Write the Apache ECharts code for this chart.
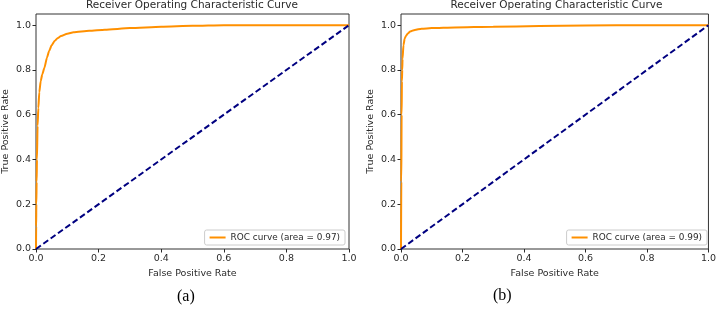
<!DOCTYPE html>
<html>
<head>
<meta charset="utf-8">
<script src="https://cdn.jsdelivr.net/npm/echarts@6/dist/echarts.min.js"></script>
<style>
  html, body { margin: 0; padding: 0; background: #fff; }
  #chart { width: 719px; height: 309px; }
</style>
</head>
<body>
<div id="chart"></div>
<script>
// ROC (a)
const fprA = [0, 0.0005, 0.001, 0.002, 0.003, 0.005, 0.0075, 0.0105, 0.015, 0.02, 0.027, 0.035, 0.042, 0.05, 0.06, 0.07, 0.08, 0.1, 0.12, 0.17, 0.22, 0.3, 0.4, 0.5, 0.6, 1.0];
const tprA = [0, 0.1, 0.2, 0.3, 0.4, 0.55, 0.63, 0.7, 0.75, 0.78, 0.81, 0.855, 0.885, 0.91, 0.93, 0.943, 0.952, 0.962, 0.968, 0.975, 0.98, 0.987, 0.993, 0.997, 1.0, 1.0];
// ROC (b)
const fprB = [0, 0.001, 0.002, 0.003, 0.004, 0.005, 0.008, 0.012, 0.016, 0.022, 0.03, 0.045, 0.067, 0.1, 0.175, 0.3, 0.45, 0.6, 0.8, 1.0];
const tprB = [0, 0.3, 0.6, 0.75, 0.8, 0.85, 0.91, 0.94, 0.952, 0.963, 0.972, 0.979, 0.984, 0.987, 0.99, 0.993, 0.996, 0.999, 1.0, 1.0];
const diagX = [0, 1];
const diagY = [0, 1];

const nameA = 'ROC curve (area = 0.97)';
const nameB = 'ROC curve (area = 0.99)';
const titleText = 'Receiver Operating Characteristic Curve';
const xTicks = [0, 0.2, 0.4, 0.6, 0.8, 1.0];
const yTicks = [0, 0.2, 0.4, 0.6, 0.8, 1.0];
const captions = ['(a)', '(b)'];

const font = 'DejaVu Sans';
const txt = '#2a2a2a';
const orange = '#ff9000';
const navy = '#000080';

const zip = (xs, ys) => xs.map((x, i) => [x, ys[i]]);

const grids = [
  { left: 35, top: 14, width: 314, height: 235 },
  { left: 401, top: 14, width: 311, height: 235 }
];

const makeX = (i) => ({
  type: 'value', gridIndex: i, min: 0, max: 1,
  name: 'False Positive Rate', nameLocation: 'middle', nameGap: 17,
  nameTextStyle: { fontFamily: font, fontSize: 9.5, color: txt },
  axisLine: { show: false },
  axisTick: { show: true, length: 3.5, lineStyle: { color: txt }, customValues: xTicks },
  axisLabel: { fontFamily: font, fontSize: 9.5, color: txt, margin: 5, customValues: xTicks, formatter: v => v.toFixed(1) },
  splitLine: { show: false }
});
const makeY = (i) => ({
  type: 'value', gridIndex: i, min: 0, max: 1.05,
  name: 'True Positive Rate', nameLocation: 'middle', nameGap: 25, nameRotate: 90,
  nameTextStyle: { fontFamily: font, fontSize: 9.5, color: txt },
  axisLine: { show: false },
  axisTick: { show: true, length: 3.5, lineStyle: { color: txt }, customValues: yTicks },
  axisLabel: { fontFamily: font, fontSize: 9.5, color: txt, margin: 5, customValues: yTicks, formatter: v => v.toFixed(1) },
  splitLine: { show: false }
});

const legendBase = {
  orient: 'vertical', icon: 'rect', itemWidth: 16, itemHeight: 2,
  padding: [3, 5, 3, 5], borderColor: '#ccc', borderWidth: 1, borderRadius: 2,
  backgroundColor: '#fff',
  textStyle: { fontFamily: font, fontSize: 8.9, color: txt }
};

const chart = echarts.init(document.getElementById('chart'), null, { renderer: 'canvas' });
chart.setOption({
  animation: false,
  title: grids.map(g => ({
    text: titleText, left: g.left + g.width / 2, top: 0, textAlign: 'center', padding: 0,
    textStyle: { fontFamily: font, fontSize: 10.5, fontWeight: 'normal', color: txt }
  })),
  grid: grids.map(g => Object.assign({ show: true, borderColor: '#333', borderWidth: 1 }, g)),
  xAxis: [makeX(0), makeX(1)],
  yAxis: [makeY(0), makeY(1)],
  legend: [
    Object.assign({}, legendBase, { data: [nameA], right: 374, top: 230 }),
    Object.assign({}, legendBase, { data: [nameB], right: 12, top: 230 })
  ],
  series: [
    { name: nameA, type: 'line', xAxisIndex: 0, yAxisIndex: 0, data: zip(fprA, tprA),
      symbol: 'none', smooth: 0.2, smoothMonotone: 'x', color: orange, lineStyle: { width: 2, color: orange } },
    { name: 'diagA', type: 'line', xAxisIndex: 0, yAxisIndex: 0, data: zip(diagX, diagY),
      symbol: 'none', lineStyle: { width: 2, color: navy, type: [6, 3] } },
    { name: nameB, type: 'line', xAxisIndex: 1, yAxisIndex: 1, data: zip(fprB, tprB),
      symbol: 'none', smooth: 0.2, smoothMonotone: 'x', color: orange, lineStyle: { width: 2, color: orange } },
    { name: 'diagB', type: 'line', xAxisIndex: 1, yAxisIndex: 1, data: zip(diagX, diagY),
      symbol: 'none', lineStyle: { width: 2, color: navy, type: [6, 3] } }
  ],
  graphic: [
    { type: 'text', left: 177, top: 289, style: { text: captions[0], font: '16px "Liberation Serif"', fill: '#000' } },
    { type: 'text', left: 493, top: 288, style: { text: captions[1], font: '16px "Liberation Serif"', fill: '#000' } }
  ]
});
</script>
</body>
</html>
